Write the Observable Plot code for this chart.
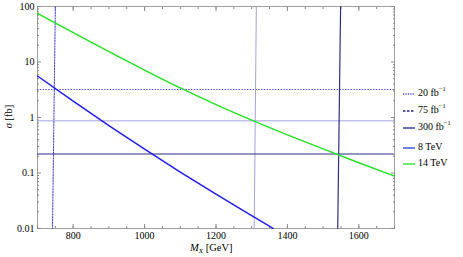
<!DOCTYPE html>
<html><head><meta charset="utf-8">
<script src="https://cdn.jsdelivr.net/npm/d3@7"></script>
<script src="https://cdn.jsdelivr.net/npm/@observablehq/plot@0.6"></script>
<style>
body{margin:0;background:#fff;font-family:"Liberation Serif","DejaVu Serif",serif;}
#wrap{position:relative;width:463px;height:257px;}
.lab{position:absolute;font-size:10.5px;color:#000;white-space:nowrap;}
.leg{position:absolute;left:403px;font-size:10px;height:12px;line-height:12px;white-space:nowrap;}
.leg svg{vertical-align:middle;margin-right:3px;}
sup{font-size:6.5px;vertical-align:5px;line-height:0;}
sub{font-size:7px;vertical-align:-2px;line-height:0;}
</style></head><body><div id="wrap"></div>
<script>
// 8 TeV cross section (blue)
const mass8 = [700, 800, 900, 1000, 1100, 1200, 1300, 1360];
const sigma8 = [5.6, 1.97, 0.716, 0.269, 0.104, 0.0415, 0.0171, 0.01];
// 14 TeV cross section (green)
const mass14 = [700, 800, 900, 1000, 1100, 1200, 1300, 1400, 1500, 1600, 1700];
const sigma14 = [75, 33.7, 15.4, 7.16, 3.41, 1.71, 0.898, 0.488, 0.271, 0.153, 0.088];
// luminosity limits: horizontal sigma levels and near-vertical mass lines
const limitNames = ["20 fb⁻¹", "75 fb⁻¹", "300 fb⁻¹"];
const limitSigma = [3.2, 0.87, 0.22];
const limitMassTop = [750, 1313, 1549];
const limitMassBottom = [742, 1307, 1541];
const xTicks = [800, 1000, 1200, 1400, 1600];
const xMinor = d3.range(700, 1701, 50);
const yTicks = [0.01, 0.1, 1, 10, 100];
const yTickLabels = ["0.01", "0.1", "1", "10", "100"];
const yMinor = [0.01,0.1,1,10].flatMap(d => [2,3,4,5,6,7,8,9].map(k => +(d*k).toPrecision(3)));

const limitStyles = [
  {stroke: "#4a4ad0", strokeDasharray: "1.4,1.4", strokeWidth: 1.1},
  {stroke: "#a3a3dc", strokeDasharray: null, strokeWidth: 1},
  {stroke: "#2e2e86", strokeDasharray: null, strokeWidth: 1.2}
];

const curves8 = mass8.map((m, i) => ({m, s: sigma8[i]}));
const curves14 = mass14.map((m, i) => ({m, s: sigma14[i]}));

const marks = [
  Plot.frame({stroke: "#a0a0a0"}),
  Plot.axisX(xMinor, {anchor: "bottom", tickSize: -2, tickFormat: () => "", stroke: "#888", label: null}),
  Plot.axisX(xMinor, {anchor: "top", tickSize: -2, tickFormat: () => "", stroke: "#888", label: null}),
  Plot.axisX(xTicks, {anchor: "bottom", tickSize: -4, tickFormat: () => "", stroke: "#888", label: null}),
  Plot.axisX(xTicks, {anchor: "top", tickSize: -4, tickFormat: () => "", stroke: "#888", label: null}),
  Plot.axisX(xTicks, {anchor: "bottom", tickSize: 0, tickPadding: 3, label: null, tickFormat: d => String(d)}),
  Plot.axisY(yMinor, {anchor: "left", tickSize: -2, tickFormat: () => "", stroke: "#888", label: null}),
  Plot.axisY(yMinor, {anchor: "right", tickSize: -2, tickFormat: () => "", stroke: "#888", label: null}),
  Plot.axisY(yTicks, {anchor: "left", tickSize: -4, tickFormat: () => "", stroke: "#888", label: null}),
  Plot.axisY(yTicks, {anchor: "right", tickSize: -4, tickFormat: () => "", stroke: "#888", label: null}),
  Plot.axisY(yTicks, {anchor: "left", tickSize: 0, tickPadding: 3, label: null, tickFormat: d => yTickLabels[yTicks.indexOf(d)]})
];
limitSigma.forEach((s, i) => {
  marks.push(Plot.ruleY([s], {...limitStyles[i]}));
  marks.push(Plot.line([{m: limitMassTop[i], s: 100}, {m: limitMassBottom[i], s: 0.01}], {x: "m", y: "s", ...limitStyles[i]}));
});
marks.push(Plot.line(curves8, {x: "m", y: "s", stroke: "#1a1af0", strokeWidth: 1.4, curve: "monotone-x"}));
marks.push(Plot.line(curves14, {x: "m", y: "s", stroke: "#22e022", strokeWidth: 1.4, curve: "monotone-x"}));

const plot = Plot.plot({
  width: 463, height: 257,
  marginLeft: 37, marginRight: 69, marginTop: 6, marginBottom: 29,
  style: {fontFamily: '"Liberation Serif", "DejaVu Serif", serif', fontSize: "10px", background: "white", color: "black"},
  x: {domain: [700, 1700]},
  y: {type: "log", domain: [0.01, 100]},
  marks
});
const wrap = document.getElementById("wrap");
wrap.appendChild(plot);

// axis titles
const xl = document.createElement("div");
xl.className = "lab";
xl.style.left = "190px"; xl.style.top = "242px";
xl.innerHTML = "<i>M</i><sub><i>X</i></sub> [GeV]";
wrap.appendChild(xl);
const yl = document.createElement("div");
yl.className = "lab";
yl.style.left = "-3px"; yl.style.top = "111px";
yl.style.transform = "rotate(-90deg)";
yl.innerHTML = "<i>σ</i> [fb]";
wrap.appendChild(yl);

// legend
const legendItems = [
  {name: "20 fb", sup: "−1", stroke: "#4646d8", dash: "1.2,1.2"},
  {name: "75 fb", sup: "−1", stroke: "#22228c", dash: "2.5,1.5"},
  {name: "300 fb", sup: "−1", stroke: "#22228c", dash: null},
  {name: "8 TeV", sup: "", stroke: "#2a3ae0", dash: null},
  {name: "14 TeV", sup: "", stroke: "#22e022", dash: null}
];
const legendTops = [87, 104, 121, 141, 157];
legendItems.forEach((it, i) => {
  const d = document.createElement("div");
  d.className = "leg";
  d.style.top = legendTops[i] + "px";
  d.innerHTML = `<svg width="12" height="4"><line x1="0" y1="2" x2="12" y2="2" stroke="${it.stroke}" stroke-width="1.3" ${it.dash ? `stroke-dasharray="${it.dash}"` : ""}/></svg>${it.name}${it.sup ? `<sup>${it.sup}</sup>` : ""}`;
  wrap.appendChild(d);
});
</script>
</body></html>
